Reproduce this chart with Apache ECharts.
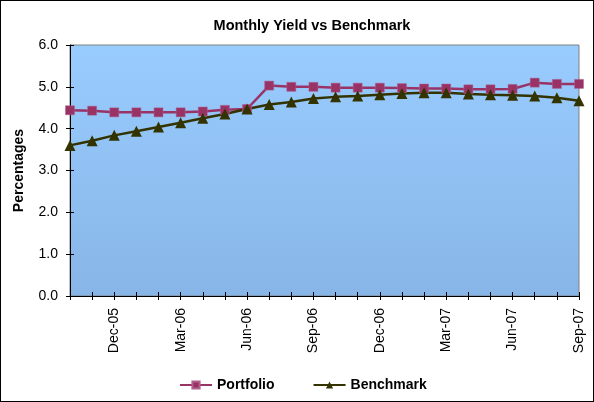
<!DOCTYPE html>
<html>
<head>
<meta charset="utf-8">
<script src="https://cdn.jsdelivr.net/npm/echarts@6/dist/echarts.min.js"></script>
<style>
  html, body { margin: 0; padding: 0; background: #fff; }
  #chart { width: 592px; height: 400px; border: 1px solid #000; }
</style>
</head>
<body>
<div id="chart"></div>
<script>
// monthly categories Oct-05 .. Sep-07
const months = [
  'Oct-05', 'Nov-05', 'Dec-05', 'Jan-06', 'Feb-06', 'Mar-06', 'Apr-06', 'May-06',
  'Jun-06', 'Jul-06', 'Aug-06', 'Sep-06', 'Oct-06', 'Nov-06', 'Dec-06', 'Jan-07',
  'Feb-07', 'Mar-07', 'Apr-07', 'May-07', 'Jun-07', 'Jul-07', 'Aug-07', 'Sep-07'
];
const portfolio = [
  4.44, 4.43, 4.39, 4.39, 4.39, 4.39, 4.41, 4.45, 4.47, 5.03, 5.00, 5.00,
  4.98, 4.98, 4.98, 4.97, 4.96, 4.96, 4.94, 4.94, 4.95, 5.10, 5.07, 5.07
];
const benchmark = [
  3.60, 3.71, 3.84, 3.94, 4.04, 4.14, 4.25, 4.35, 4.47, 4.58, 4.64, 4.72,
  4.76, 4.78, 4.81, 4.84, 4.86, 4.86, 4.83, 4.81, 4.80, 4.78, 4.74, 4.67
];
const yTicks = [0, 1, 2, 3, 4, 5, 6];

const chart = echarts.init(document.getElementById('chart'));

const showLabel = (i) => (i - 2) % 3 === 0;
const font = 'Liberation Sans, Arial, sans-serif';

const option = {
  animation: false,
  textStyle: { fontFamily: font },
  title: {
    text: 'Monthly Yield vs Benchmark',
    left: 306,
    textAlign: 'center',
    top: 12,
    textStyle: { fontSize: 14.5, fontWeight: 'bold', color: '#000', fontFamily: font }
  },
  legend: {
    bottom: 4,
    left: 173,
    itemGap: 38,
    itemWidth: 32,
    itemHeight: 9,
    textStyle: { fontSize: 14, fontWeight: 'bold', color: '#000', fontFamily: font },
    data: ['Portfolio', 'Benchmark']
  },
  grid: {
    left: 69,
    right: 14,
    top: 44,
    bottom: 105,
    show: true,
    borderColor: '#808080',
    borderWidth: 1,
    backgroundColor: {
      type: 'linear', x: 0, y: 0, x2: 0, y2: 1,
      colorStops: [
        { offset: 0, color: '#99CCFF' },
        { offset: 1, color: '#88B5E7' }
      ]
    }
  },
  xAxis: [
    {
      type: 'category',
      data: months,
      boundaryGap: false,
      axisLine: { lineStyle: { color: '#000', width: 1 } },
      axisTick: { interval: 0, length: 4, lineStyle: { color: '#000' } },
      axisLabel: {
        interval: showLabel,
        rotate: 90,
        fontSize: 14,
        color: '#000',
        margin: 12
      },
      splitLine: { show: false }
    },
    {
      type: 'category',
      data: months,
      boundaryGap: false,
      position: 'bottom',
      axisLine: { show: false },
      axisTick: { interval: 0, inside: true, length: 4, lineStyle: { color: '#000' } },
      axisLabel: { show: false },
      splitLine: { show: false }
    }
  ],
  yAxis: [
    {
      type: 'value',
      min: yTicks[0],
      max: yTicks[yTicks.length - 1],
      interval: 1,
      name: 'Percentages',
      nameLocation: 'middle',
      nameGap: 44,
      nameRotate: 90,
      nameTextStyle: { fontSize: 14, fontWeight: 'bold', color: '#000', fontFamily: font },
      axisLine: { show: true, lineStyle: { color: '#000', width: 1 } },
      axisTick: { show: true, length: 4, lineStyle: { color: '#000' } },
      axisLabel: { fontSize: 14, color: '#000', margin: 12, formatter: (v) => v.toFixed(1) },
      splitLine: { show: false }
    },
    {
      type: 'value',
      min: yTicks[0],
      max: yTicks[yTicks.length - 1],
      interval: 1,
      position: 'left',
      axisLine: { show: false },
      axisTick: { show: true, inside: true, length: 4, lineStyle: { color: '#000' } },
      axisLabel: { show: false },
      splitLine: { show: false }
    }
  ],
  series: [
    {
      name: 'Portfolio',
      type: 'line',
      data: portfolio,
      symbol: 'rect',
      symbolSize: 9,
      lineStyle: { color: '#993366', width: 2.5 },
      itemStyle: { color: '#993366', borderColor: '#B0608A', borderWidth: 0.5 }
    },
    {
      name: 'Benchmark',
      type: 'line',
      data: benchmark,
      symbol: 'triangle',
      symbolSize: 11,
      lineStyle: { color: '#333300', width: 2.5 },
      itemStyle: { color: '#333300' }
    }
  ]
};

chart.setOption(option);
</script>
</body>
</html>
